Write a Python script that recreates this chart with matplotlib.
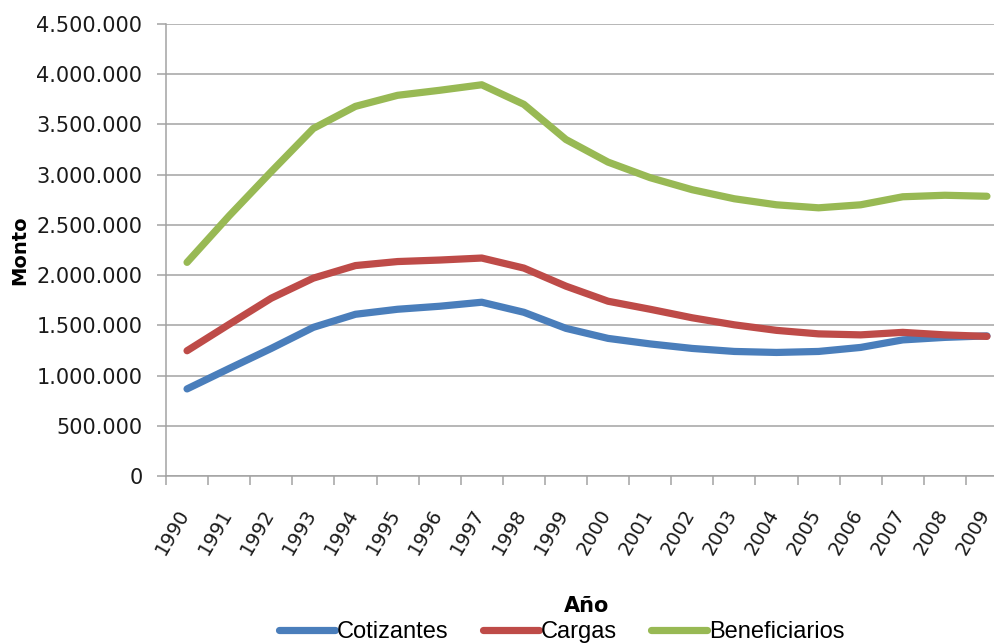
import numpy as np
import matplotlib
matplotlib.use("Agg")
import matplotlib.pyplot as plt
from matplotlib.ticker import FuncFormatter, MultipleLocator, FixedLocator
from matplotlib.transforms import ScaledTranslation

# Data
years = [str(y) for y in range(1990, 2010)]
cotizantes = [867_000, 1_070_000, 1_270_000, 1_480_000, 1_610_000, 1_660_000, 1_690_000,
              1_730_000, 1_630_000, 1_470_000, 1_370_000, 1_315_000, 1_270_000, 1_240_000,
              1_230_000, 1_240_000, 1_280_000, 1_355_000, 1_380_000, 1_395_000]
cargas = [1_247_000, 1_510_000, 1_770_000, 1_970_000, 2_095_000, 2_135_000, 2_150_000,
          2_170_000, 2_070_000, 1_890_000, 1_740_000, 1_660_000, 1_575_000, 1_505_000,
          1_450_000, 1_415_000, 1_405_000, 1_430_000, 1_405_000, 1_390_000]
beneficiarios = [2_127_000, 2_590_000, 3_030_000, 3_460_000, 3_680_000, 3_790_000, 3_840_000,
                 3_895_000, 3_700_000, 3_350_000, 3_125_000, 2_970_000, 2_850_000, 2_760_000,
                 2_700_000, 2_670_000, 2_700_000, 2_780_000, 2_795_000, 2_785_000]

series = [
    ("Cotizantes", cotizantes, "#4a7ebb"),
    ("Cargas", cargas, "#be4b48"),
    ("Beneficiarios", beneficiarios, "#98b954"),
]

W, H = 995, 643
fig = plt.figure(figsize=(W / 100, H / 100), dpi=100)
fig.patch.set_facecolor("white")

left, top, bottom = 166, 24, 476
step = 42.1
ax = fig.add_axes([left / W, 1 - bottom / H, len(years) * step / W, (bottom - top) / H])

x = np.arange(len(years))
for name, vals, color in series:
    ax.plot(x, vals, color=color, lw=5.2, solid_capstyle="round", solid_joinstyle="round",
            label=name, zorder=3)

grid_color = "#a3a3a3"
ax.set_ylim(0, 4_500_000)
ax.set_xlim(-0.5, len(years) - 0.5)
ax.yaxis.set_major_locator(MultipleLocator(500_000))
ax.yaxis.set_major_formatter(FuncFormatter(lambda v, p: f"{int(v):,}".replace(",", ".")))
ax.grid(axis="y", color=grid_color, lw=1.1, zorder=0)
ax.set_axisbelow(True)

ax.set_xticks(x)
ax.set_xticklabels(years)
ax.xaxis.set_minor_locator(FixedLocator(np.arange(-0.5, len(years), 1.0)))
ax.tick_params(axis="x", which="major", length=0, pad=27, labelsize=14,
               labelcolor="#1a1a1a")
ax.tick_params(axis="x", which="minor", length=6.5, width=1.1, color=grid_color,
               direction="out")
ax.tick_params(axis="y", length=6.5, width=1.1, color=grid_color, pad=10.5,
               labelsize=15, labelcolor="#1a1a1a")
shift = ScaledTranslation(3 / 100, 0, fig.dpi_scale_trans)
for lab in ax.get_xticklabels():
    lab.set_rotation(60)
    lab.set_ha("right")
    lab.set_va("baseline")
    lab.set_rotation_mode("anchor")
    lab.set_transform(lab.get_transform() + shift)

for s in ("top", "right"):
    ax.spines[s].set_visible(False)
for s in ("left", "bottom"):
    ax.spines[s].set_color(grid_color)
    ax.spines[s].set_linewidth(1.1)

fig.text(20 / W, 1 - 250 / H, "Monto", rotation=90, ha="center", va="center",
         fontsize=14, fontweight="bold", color="black")
fig.text(587 / W, 1 - 606 / H, "Año", ha="center", va="center",
         fontsize=15, fontweight="bold", color="black")

fig.legend(loc="center", bbox_to_anchor=(562 / W, 1 - 632 / H), ncol=3, frameon=False,
           prop={"family": "Liberation Sans", "size": 17}, handlelength=2.35,
           handletextpad=0.1, columnspacing=1.45, borderpad=0, borderaxespad=0)

fig.savefig("out.png", dpi=100, facecolor="white")
